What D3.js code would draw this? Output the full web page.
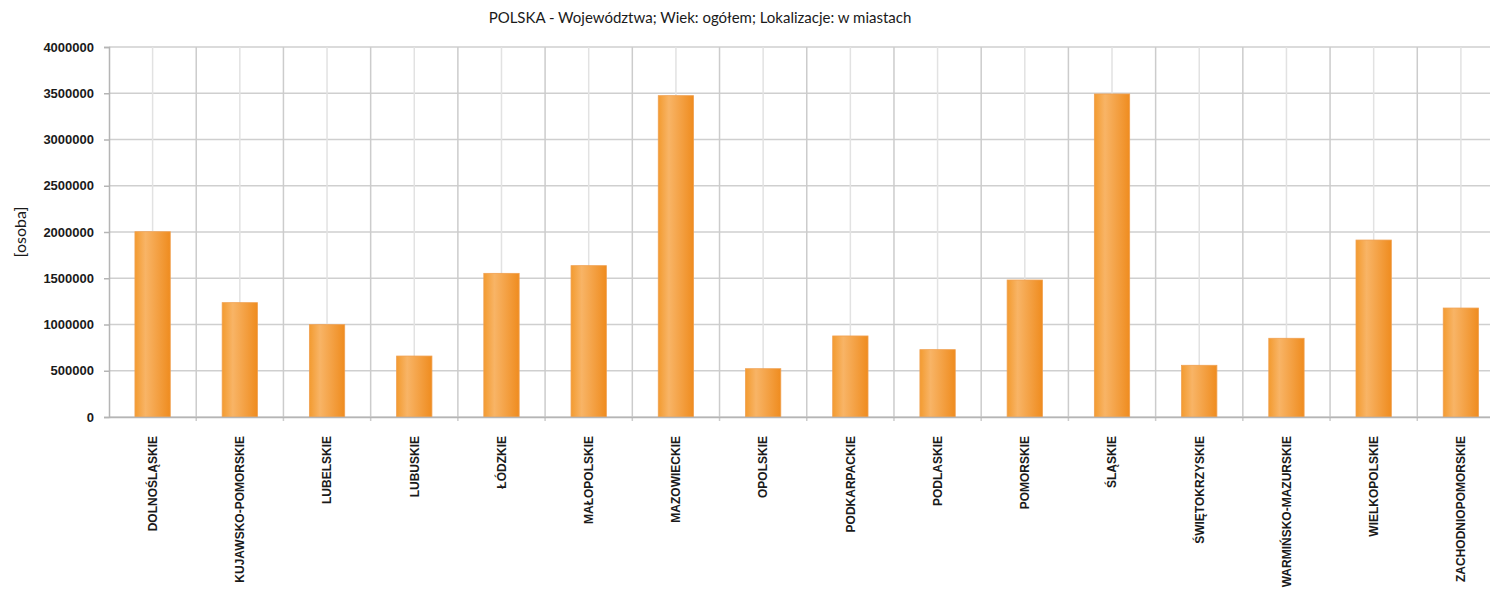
<!DOCTYPE html>
<html>
<head>
<meta charset="utf-8">
<script src="https://cdn.jsdelivr.net/npm/d3@7"></script>
<style>
  html, body { margin: 0; padding: 0; background: #ffffff; }
  svg { display: block; }
</style>
</head>
<body>
<svg id="chart" width="1490" height="601"></svg>
<script>
const categories = ["DOLNOŚLĄSKIE","KUJAWSKO-POMORSKIE","LUBELSKIE","LUBUSKIE","ŁÓDZKIE","MAŁOPOLSKIE","MAZOWIECKIE","OPOLSKIE","PODKARPACKIE","PODLASKIE","POMORSKIE","ŚLĄSKIE","ŚWIĘTOKRZYSKIE","WARMIŃSKO-MAZURSKIE","WIELKOPOLSKIE","ZACHODNIOPOMORSKIE"];
const values = [2003000,1236000,998000,659000,1553000,1636000,3474000,522000,876000,728000,1481000,3492000,559000,851000,1913000,1178000];
const yTicks = [0,500000,1000000,1500000,2000000,2500000,3000000,3500000,4000000];
const titleText = "POLSKA - Województwa; Wiek: ogółem; Lokalizacje: w miastach";
const yTitle = "[osoba]";

const svg = d3.select("#chart");
const pLeft = 109, pRight = 1504.5, pTop = 47, pBottom = 417;

const x = d3.scaleBand().domain(categories).range([pLeft, pRight]).paddingInner(0).paddingOuter(0);
const y = d3.scaleLinear().domain([0, 4000000]).range([pBottom, pTop]);

const defs = svg.append("defs");
const grad = defs.append("linearGradient").attr("id","barGrad").attr("x1","0").attr("x2","1").attr("y1","0").attr("y2","0");
grad.append("stop").attr("offset","0%").attr("stop-color","#F39B30");
grad.append("stop").attr("offset","30%").attr("stop-color","#F8B466");
grad.append("stop").attr("offset","100%").attr("stop-color","#EF8C1F");

// horizontal gridlines
svg.append("g").selectAll("line").data(yTicks).join("line")
  .attr("x1", pLeft).attr("x2", pRight)
  .attr("y1", d => y(d)).attr("y2", d => y(d))
  .attr("stroke", "#cfcfcf").attr("stroke-width", 1.5);

// vertical gridlines at category centers (lighter)
svg.append("g").selectAll("line").data(categories).join("line")
  .attr("x1", d => x(d) + x.bandwidth()/2).attr("x2", d => x(d) + x.bandwidth()/2)
  .attr("y1", pTop).attr("y2", pBottom)
  .attr("stroke", "#e2e2e2").attr("stroke-width", 1.5);

// vertical gridlines at category boundaries (darker)
svg.append("g").selectAll("line").data(categories.slice(1)).join("line")
  .attr("x1", d => x(d)).attr("x2", d => x(d))
  .attr("y1", pTop).attr("y2", pBottom + 4)
  .attr("stroke", "#cccccc").attr("stroke-width", 1.5);

// bars
const bw = x.bandwidth() * 0.405;
svg.append("g").selectAll("rect").data(values).join("rect")
  .attr("x", (d,i) => x(categories[i]) + (x.bandwidth() - bw)/2)
  .attr("y", d => y(d))
  .attr("width", bw)
  .attr("height", d => pBottom - y(d))
  .attr("fill", "url(#barGrad)")
  .attr("stroke", "#F0A050").attr("stroke-width", 0.8);

// y axis
const yAxis = d3.axisLeft(y).tickValues(yTicks).tickFormat(d3.format("d")).tickSize(5).tickPadding(10);
const gy = svg.append("g").attr("transform", `translate(${pLeft},0)`).call(yAxis);
gy.select(".domain").attr("stroke", "#b5b5b5").attr("stroke-width", 1.5);
gy.selectAll(".tick line").attr("stroke", "#b5b5b5").attr("stroke-width", 1.5);
gy.selectAll("text").attr("font-family", "Liberation Sans, Arial, sans-serif").attr("font-size", 13).attr("font-weight", "bold").attr("fill", "#1a1a1a");

// x axis
const xAxis = d3.axisBottom(x).tickSize(0).tickFormat("");
const gx = svg.append("g").attr("transform", `translate(0,${pBottom})`).call(xAxis);
gx.select(".domain").attr("stroke", "#b5b5b5").attr("stroke-width", 1.5);
gx.selectAll(".tick text").remove();

// x labels
svg.append("g").selectAll("text").data(categories).join("text")
  .attr("transform", d => `translate(${x(d) + x.bandwidth()/2},436) rotate(-90)`)
  .attr("text-anchor", "end")
  .attr("dy", "0.36em")
  .attr("font-family", "Liberation Sans, Arial, sans-serif")
  .attr("font-size", 12)
  .attr("font-weight", "bold")
  .attr("fill", "#1a1a1a")
  .text(d => d);

// y title
svg.append("text")
  .attr("transform", `translate(26,${(pTop+pBottom)/2}) rotate(-90)`)
  .attr("text-anchor", "middle")
  .attr("font-family", "Lato, 'Open Sans', sans-serif")
  .attr("font-size", 16)
  .attr("fill", "#1a1a1a")
  .text(yTitle);

// title
svg.append("text")
  .attr("x", 700).attr("y", 23)
  .attr("text-anchor", "middle")
  .attr("font-family", "Lato, 'Open Sans', sans-serif")
  .attr("font-size", 15)
  .attr("fill", "#1a1a1a")
  .text(titleText);
</script>
</body>
</html>
